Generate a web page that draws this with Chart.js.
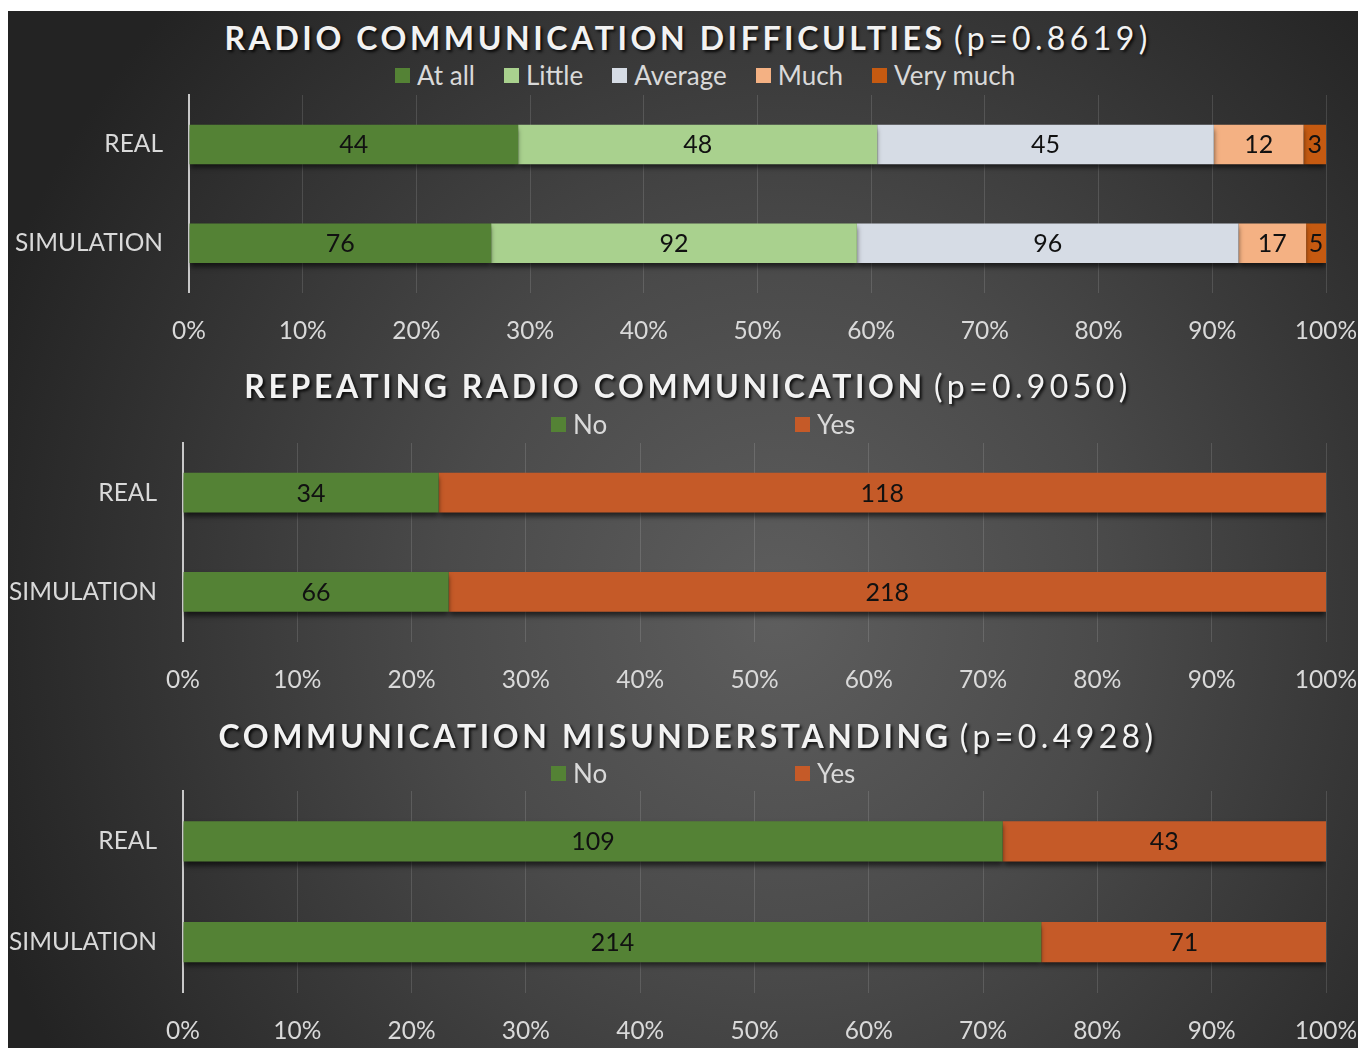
<!DOCTYPE html>
<html>
<head>
<meta charset="utf-8">
<script src="https://cdn.jsdelivr.net/npm/chart.js"></script>
<style>
  body { margin: 0; background: #fff; width: 1358px; height: 1048px; overflow: hidden; position: relative; font-family: Lato, "Open Sans", sans-serif; }
  #panel {
    position: absolute; left: 8px; top: 11px; width: 1350px; height: 1037px;
    background: radial-gradient(ellipse 62% 85% at 57% 58%, #5e5e5e 0%, #4a4a4a 40%, #333 75%, #232323 100%);
  }
  .title {
    position: absolute; left: 0; width: 1376px; text-align: center;
    font-size: 32px; line-height: 40px; color: #f2f2f2;
    text-shadow: 2px 2px 3px rgba(0,0,0,0.85); white-space: nowrap;
  }
  .title b { font-weight: 700; letter-spacing: 3.6px; }
  .title span { font-weight: 400; letter-spacing: 4.4px; }
  .legend {
    position: absolute; display: flex; align-items: center;
    font-size: 26px; line-height: 30px; color: #d9d9d9; white-space: nowrap;
  }
  .legend .item { display: flex; align-items: center; }
  .legend .box { width: 15px; height: 15px; margin-right: 7px; }
  canvas { position: absolute; left: 0; }
</style>
</head>
<body>
<div id="panel"></div>

<script>
// categories (rows of every chart)
const categories = ['REAL', 'SIMULATION'];

// chart 1: radio communication difficulties
const difficultyLevels = ['At all', 'Little', 'Average', 'Much', 'Very much'];
const difficultyColors = ['#548235', '#A9D18E', '#D6DCE5', '#F4B183', '#C55A11'];
const difficultyReal = [44, 48, 45, 12, 3];
const difficultySim  = [76, 92, 96, 17, 5];

// charts 2 and 3: yes / no answers
const yesNo = ['No', 'Yes'];
const yesNoColors = ['#548235', '#C55A28'];
const repeatReal = [34, 118];
const repeatSim  = [66, 218];
const misReal = [109, 43];
const misSim  = [214, 71];

// titles
const titles = ['RADIO COMMUNICATION DIFFICULTIES', 'REPEATING RADIO COMMUNICATION', 'COMMUNICATION MISUNDERSTANDING'];
const pValues = ['(p=0.8619)', '(p=0.9050)', '(p=0.4928)'];

// x axis: percent ticks
const xMin = 0, xMax = 100, xStep = 10;

// draws the raw counts in the middle of each segment
const countLabels = {
    id: 'countLabels',
    afterDatasetsDraw(chart) {
        const ctx = chart.ctx;
        ctx.save();
        ctx.font = '25px Lato';
        ctx.fillStyle = '#111';
        ctx.textAlign = 'center';
        ctx.textBaseline = 'middle';
        chart.data.datasets.forEach((ds, i) => {
            chart.getDatasetMeta(i).data.forEach((bar, j) => {
                const p = bar.getCenterPoint();
                ctx.fillText(ds.counts[j], p.x, p.y + 1);
            });
        });
        ctx.restore();
    }
};

// soft shadow under the bars
const barShadow = {
    id: 'barShadow',
    beforeDatasetsDraw(chart) {
        const ctx = chart.ctx;
        ctx.save();
        ctx.shadowColor = 'rgba(0,0,0,0.6)';
        ctx.shadowBlur = 5;
        ctx.shadowOffsetY = 4;
    },
    afterDatasetsDraw(chart) {
        chart.ctx.restore();
    }
};

function addTitle(i, top) {
    const d = document.createElement('div');
    d.className = 'title';
    d.style.top = top + 'px';
    d.innerHTML = '<b>' + titles[i] + '</b> <span>' + pValues[i] + '</span>';
    document.body.appendChild(d);
}

function addLegend(names, colors, left, top, itemWidth, gap) {
    const d = document.createElement('div');
    d.className = 'legend';
    d.style.left = left + 'px';
    d.style.top = top + 'px';
    names.forEach((n, i) => {
        const it = document.createElement('div');
        it.className = 'item';
        if (itemWidth) it.style.width = itemWidth + 'px';
        else if (i < names.length - 1) it.style.marginRight = gap + 'px';
        it.innerHTML = '<div class="box" style="background:' + colors[i] + '"></div>' + n;
        d.appendChild(it);
    });
    document.body.appendChild(d);
}

function makeChart(names, colors, real, sim, top, plotLeft, plotHeight) {
    const canvas = document.createElement('canvas');
    const padTop = 5;
    // room below the plot for the percent labels
    const height = padTop + plotHeight + 78;
    canvas.width = 1358;
    canvas.height = height;
    canvas.style.top = (top - padTop) + 'px';
    document.body.appendChild(canvas);

    const totals = [real, sim].map(r => r.reduce((a, b) => a + b, 0));
    const datasets = names.map((n, i) => ({
        label: n,
        counts: [real[i], sim[i]],
        data: [real[i] / totals[0] * 100, sim[i] / totals[1] * 100],
        backgroundColor: colors[i],
        borderWidth: 0,
        barPercentage: 0.4,
        categoryPercentage: 1.0
    }));

    return new Chart(canvas.getContext('2d'), {
        type: 'bar',
        data: { labels: categories, datasets: datasets },
        options: {
            responsive: false,
            animation: false,
            indexAxis: 'y',
            layout: { padding: { top: padTop, right: 32, bottom: 0, left: 0 } },
            plugins: {
                legend: { display: false },
                title: { display: false },
                tooltip: { enabled: false }
            },
            scales: {
                x: {
                    stacked: true,
                    min: xMin,
                    max: xMax,
                    afterFit: s => { s.paddingLeft = 0; s.paddingRight = 0; },
                    ticks: {
                        stepSize: xStep,
                        color: '#d9d9d9',
                        font: { family: 'Lato', size: 24.5 },
                        padding: 24,
                        callback: v => v + '%'
                    },
                    grid: {
                        drawTicks: false,
                        color: c => c.tick && c.tick.value === 0 ? 'rgba(0,0,0,0)' : 'rgba(255,255,255,0.13)'
                    },
                    border: { display: false }
                },
                y: {
                    stacked: true,
                    afterFit: s => { s.width = plotLeft; s.paddingTop = 0; s.paddingBottom = 0; },
                    ticks: {
                        color: '#d9d9d9',
                        font: { family: 'Lato', size: 24.5 },
                        padding: 26
                    },
                    grid: { display: false, drawTicks: false },
                    border: { display: true, color: '#c8c8c8', width: 2, dash: [3, 2] }
                }
            }
        },
        plugins: [barShadow, countLabels]
    });
}

// chart 1
addTitle(0, 18);
addLegend(difficultyLevels, difficultyColors, 395, 60, 0, 29);
makeChart(difficultyLevels, difficultyColors, difficultyReal, difficultySim, 95, 189, 197);

// chart 2
addTitle(1, 366);
addLegend(yesNo, yesNoColors, 551, 409, 244, 0);
makeChart(yesNo, yesNoColors, repeatReal, repeatSim, 443, 183, 198);

// chart 3
addTitle(2, 716);
addLegend(yesNo, yesNoColors, 551, 758, 244, 0);
makeChart(yesNo, yesNoColors, misReal, misSim, 791, 183, 201);
</script>
</body>
</html>
